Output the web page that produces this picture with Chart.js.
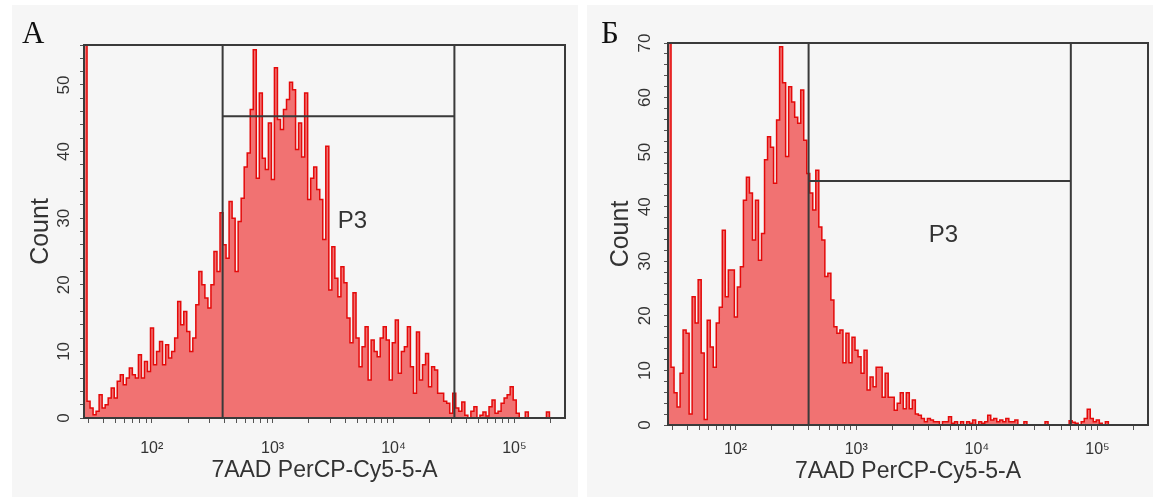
<!DOCTYPE html>
<html>
<head>
<meta charset="utf-8">
<script src="https://cdn.jsdelivr.net/npm/chart.js@4.4.1/dist/chart.umd.min.js"></script>
<style>
  body { margin:0; background:#fff; width:1153px; height:498px; position:relative; overflow:hidden; }
  .panel { position:absolute; top:5px; width:566px; height:492px; background:#f6f6f6; }
  .panel canvas { position:absolute; left:0; top:0; }
  .letter { position:absolute; top:12px; font-family:'Liberation Serif','DejaVu Serif',serif; font-size:31px; line-height:31px; color:#111; }
</style>
</head>
<body>
<div class="panel" style="left:12px">
  <canvas id="chartA" width="566" height="492"></canvas>
  <div class="letter" style="left:10px">А</div>
</div>
<div class="panel" style="left:587px">
  <canvas id="chartB" width="566" height="492"></canvas>
  <div class="letter" style="left:14px">Б</div>
</div>
<script>
// histogram bins, log10 of the first bin edge and the bin width in decades
const binStartLog = 1.44;
const binWidthLog = 0.025;
const xMin = 27.54;
const xMax = 262144;

// counts per bin, panel A (first bin is the off-scale pile at the left edge)
const countsA = [
  300, 2.5, 1.5, 0.5, 1, 3.5, 1.5, 2, 3, 4.5,
  3, 5.5, 6.5, 5, 6, 7.5, 6.5, 6, 9.5, 6,
  8.5, 7, 13.5, 8, 10, 11.5, 8, 11, 9, 10,
  12, 17.5, 14, 16, 13, 10, 12, 17, 22, 20,
  18, 16.5, 20, 25, 22, 30.8, 26, 24, 32.5, 30,
  22, 29.5, 33, 37.7, 39.8, 46.3, 55.3, 36, 48.8, 39,
  37.3, 44.3, 35.8, 52.6, 44.8, 43.3, 46.3, 47.8, 50.4, 49.3,
  40.3, 44.3, 39.2, 48.8, 32.8, 36, 37.7, 34.3, 32.8, 26.8,
  40.8, 19.2, 25.7, 21, 18.2, 22.7, 20.3, 15, 11.3, 18.8,
  12, 7.7, 10.7, 13.7, 5.7, 11.7, 10, 9.2, 12, 13.7,
  11.7, 5.7, 11.3, 14.7, 6.7, 10, 10.7, 13.7, 7.7, 3.7,
  12.9, 5.7, 8, 9.7, 4.7, 7.7, 7.2, 3.7, 3.7, 2.5,
  2.2, 0.7, 3.7, 1.5, 1, 2.4, 0.4, 0, 1, 1.7,
  0, 0.4, 0.9, 0.3, 1.7, 2.7, 0.7, 1, 2.2, 3,
  3.5, 4.7, 2.7, 0.7, 0, 0, 0.9, 0, 0, 0,
  0, 0, 0, 0.9, 0, 0, 0, 0, 0
];

// counts per bin, panel Б
const countsB = [
  300, 10.6, 5.9, 3.3, 9.5, 17.4, 16.8, 2, 23.5, 18.7,
  26.6, 13.2, 1, 19.2, 14.3, 10.6, 18.7, 21.6, 35.7, 23.5,
  28.4, 28.4, 19.8, 25.3, 29, 41.2, 45.4, 42.5, 33.9, 41.2,
  30.2, 35.1, 48.6, 52.8, 50.9, 44.3, 55.9, 69.3, 62.7, 49.2,
  62, 59.2, 56.4, 55.3, 61.4, 52.2, 46.1, 42.5, 39.4, 46.7,
  36.3, 33.9, 27.2, 27.8, 22.9, 18, 16.8, 17.4, 11.4, 16.8,
  11.4, 16.1, 13.7, 12.5, 9.5, 13.7, 6.4, 8.8, 7, 10.6,
  10.6, 5.1, 9.5, 5.1, 5.1, 2.7, 4, 5.9, 3, 5.9,
  3, 4.6, 2, 1.8, 1.2, 0.6, 1.2, 0.9, 0.6, 0.6,
  0, 0.6, 0.6, 1.5, 0.3, 0.6, 0, 0.6, 0, 0.6,
  0.3, 0.9, 0, 0.6, 0.3, 0.6, 1.8, 0.9, 1.2, 0.6,
  0.9, 0.6, 1.2, 0.6, 0.6, 0.9, 0, 0, 0.6, 0,
  0, 0, 0, 0, 0, 0.6, 0, 0, 0, 0,
  0, 0, 0, 0.8, 0.5, 0.3, 0, 0.6, 1.2, 2.9,
  1.2, 0.6, 0.9, 0.3, 0, 0.6, 0, 0, 0, 0,
  0, 0, 0, 0, 0, 0, 0, 0, 0
];

const yMaxA = 56;
const yMaxB = 70;
// gate P3: left edge, right edge, level (count)
const gateA = [386, 31900, 45.3];
const gateB = [403, 60100, 44.7];
const gateLabelA = [4580, 29.5];
const gateLabelB = [5280, 34.8];
const decadeLabels = {100: '10²', 1000: '10³', 10000: '10⁴', 100000: '10⁵'};

Chart.defaults.font.family = "'Liberation Sans', Arial, sans-serif";
Chart.defaults.color = '#333';

const xTickValues = [];
for (let e = 1; e <= 5; e++) {
  for (let m = 1; m <= 9; m++) {
    const v = m * Math.pow(10, e);
    if (v > xMin && v < xMax) xTickValues.push(v);
  }
}

function toPoints(counts) {
  const pts = counts.map((c, i) => ({x: Math.pow(10, binStartLog + i * binWidthLog), y: c}));
  pts.push({x: xMax, y: counts[counts.length - 1]});
  return pts;
}

const gatePlugin = {
  id: 'gate',
  afterDatasetsDraw(chart, args, opts) {
    const {ctx, chartArea: a, scales: {x, y}} = chart;
    const l = x.getPixelForValue(opts.gate[0]);
    const r = x.getPixelForValue(opts.gate[1]);
    const h = y.getPixelForValue(opts.gate[2]);
    ctx.save();
    ctx.strokeStyle = '#3a3a3a';
    ctx.lineWidth = 2;
    ctx.beginPath();
    ctx.moveTo(l, a.top); ctx.lineTo(l, a.bottom);
    ctx.moveTo(r, a.top); ctx.lineTo(r, a.bottom);
    ctx.moveTo(l, h); ctx.lineTo(r, h);
    ctx.stroke();
    ctx.strokeRect(a.left, a.top, a.width, a.height);
    ctx.fillStyle = '#333';
    ctx.font = "24px 'Liberation Sans', Arial, sans-serif";
    ctx.textAlign = 'center';
    ctx.textBaseline = 'middle';
    ctx.fillText(opts.label, x.getPixelForValue(opts.labelAt[0]), y.getPixelForValue(opts.labelAt[1]));
    ctx.restore();
  }
};

function makeChart(id, counts, yMax, gate, labelAt, lay) {
  return new Chart(document.getElementById(id), {
    type: 'line',
    data: {
      datasets: [{
        data: toPoints(counts),
        stepped: true,
        fill: 'origin',
        borderColor: 'rgb(228, 10, 10)',
        borderWidth: 1.5,
        backgroundColor: 'rgba(238, 62, 62, 0.72)',
        pointRadius: 0,
        tension: 0
      }]
    },
    options: {
      responsive: false,
      animation: false,
      devicePixelRatio: 1,
      layout: {padding: {top: lay.padTop, right: lay.padRight, left: 0, bottom: 0}},
      plugins: {
        legend: {display: false},
        tooltip: {enabled: false},
        gate: {gate: gate, labelAt: labelAt, label: 'P3'}
      },
      scales: {
        x: {
          type: 'logarithmic',
          min: xMin,
          max: xMax,
          afterFit: s => { s.height = lay.xHeight; },
          afterBuildTicks: s => { s.ticks = xTickValues.map(v => ({value: v, major: !!decadeLabels[v]})); },
          ticks: {
            autoSkip: false, maxRotation: 0, minRotation: 0,
            padding: lay.xTickPad,
            font: {size: 16},
            callback: v => decadeLabels[v] || ''
          },
          grid: {drawOnChartArea: false, drawTicks: true, tickLength: 5, color: '#555'},
          border: {display: true, color: '#3a3a3a', width: 2},
          title: {display: true, text: '7AAD PerCP-Cy5-5-A', font: {size: 23}, padding: {top: 0, bottom: lay.xTitlePad}}
        },
        y: {
          type: 'linear',
          min: 0,
          max: yMax,
          afterFit: s => { s.width = lay.yWidth; },
          ticks: {
            stepSize: 2, autoSkip: false,
            minRotation: 90, maxRotation: 90, crossAlign: 'center',
            padding: lay.yTickPad,
            font: {size: 17},
            callback: v => (v % 10 === 0 ? String(v) : '')
          },
          grid: {drawOnChartArea: false, drawTicks: true, tickLength: 4, color: '#555'},
          border: {display: true, color: '#3a3a3a', width: 2},
          title: {display: true, text: 'Count', font: {size: 25}, padding: {top: lay.yTitlePad, bottom: 0}}
        }
      }
    },
    plugins: [gatePlugin]
  });
}

makeChart('chartA', countsA, yMaxA, gateA, gateLabelA,
  {padTop: 40, padRight: 13, yWidth: 72, xHeight: 79, yTickPad: 6, yTitlePad: 14, xTickPad: 16, xTitlePad: 13});
makeChart('chartB', countsB, yMaxB, gateB, gateLabelB,
  {padTop: 38, padRight: 5, yWidth: 81, xHeight: 72, yTickPad: 9, yTitlePad: 19, xTickPad: 10, xTitlePad: 12});
</script>
</body>
</html>
